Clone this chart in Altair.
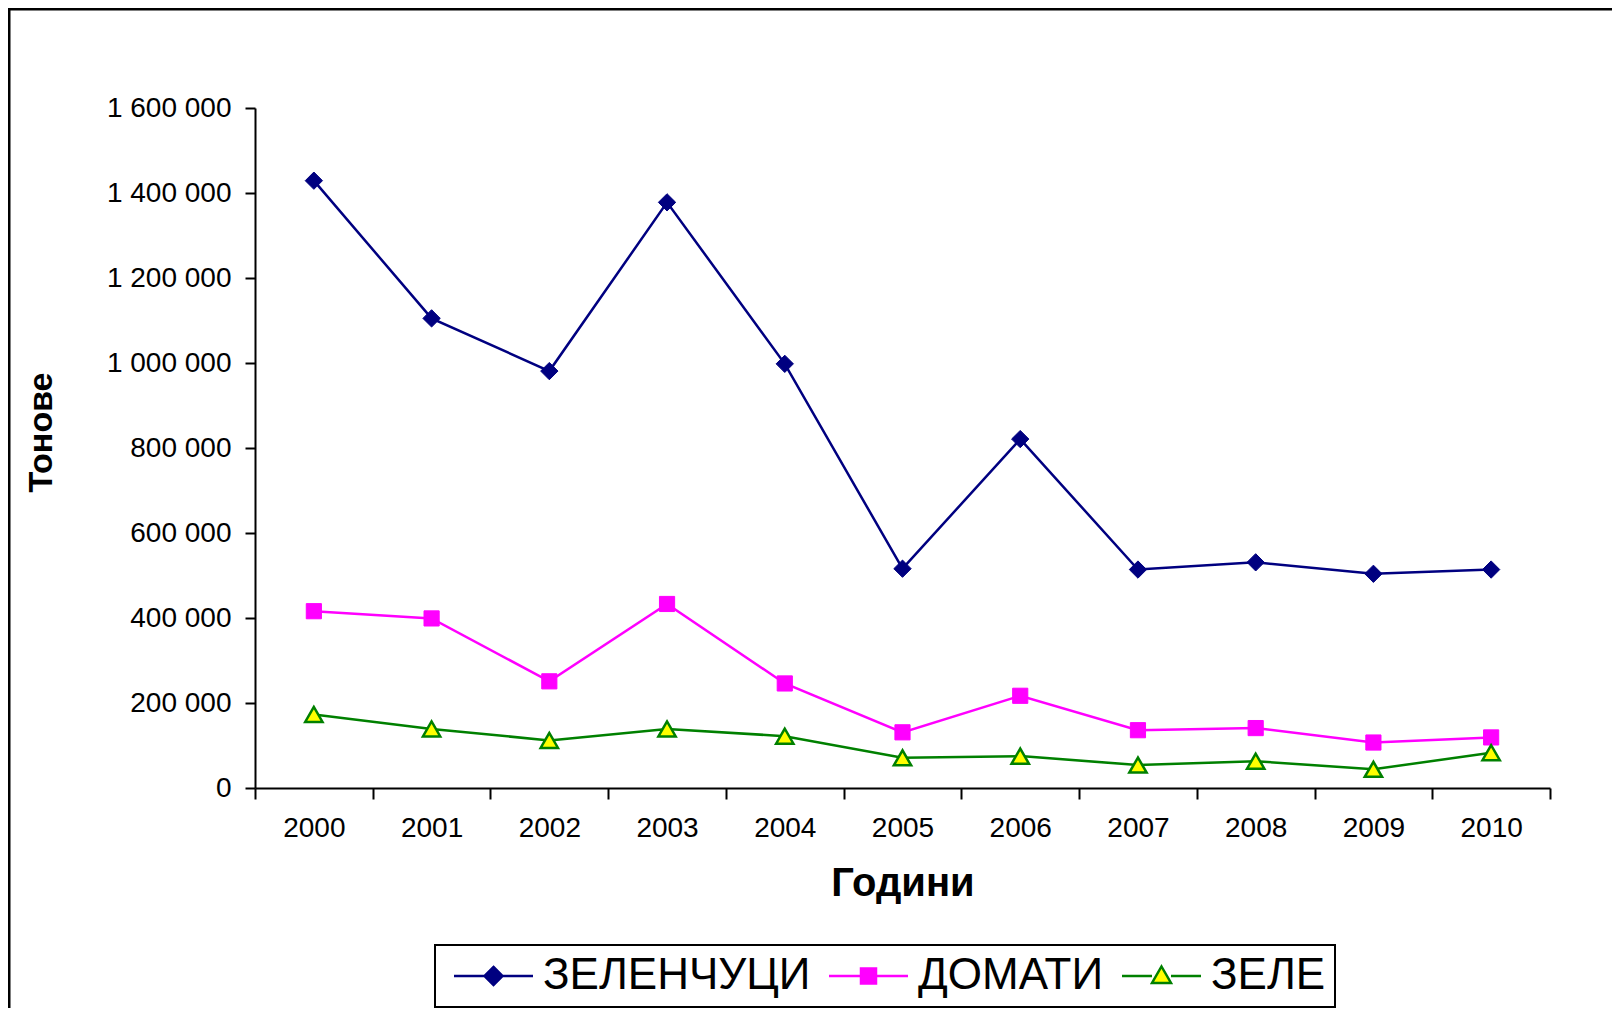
import altair as alt
import pandas as pd

# ---- data ----
years = ["2000", "2001", "2002", "2003", "2004", "2005", "2006", "2007", "2008", "2009", "2010"]
series_names = ["ЗЕЛЕНЧУЦИ", "ДОМАТИ", "ЗЕЛЕ"]
zelenchutsi = [1429000, 1105000, 981000, 1378000, 998000, 516000, 821000, 514000, 531000, 504000, 514000]
domati = [416000, 399000, 251000, 433000, 246000, 131000, 217000, 136000, 141000, 107000, 119000]
zele = [173000, 139000, 112000, 139000, 122000, 71000, 75000, 54000, 63000, 44000, 83000]
y_ticks = [0, 200000, 400000, 600000, 800000, 1000000, 1200000, 1400000, 1600000]

values_by_series = {"ЗЕЛЕНЧУЦИ": zelenchutsi, "ДОМАТИ": domati, "ЗЕЛЕ": zele}
rows = []
for s in series_names:
    for yr, v in zip(years, values_by_series[s]):
        rows.append({"year": yr, "value": v, "series": s})
df = pd.DataFrame(rows)

# ---- styles ----
line_colors = {"ЗЕЛЕНЧУЦИ": "#000080", "ДОМАТИ": "#FF00FF", "ЗЕЛЕ": "#008000"}
marker_fill = {"ЗЕЛЕНЧУЦИ": "#000080", "ДОМАТИ": "#FF00FF", "ЗЕЛЕ": "#FFFF00"}
marker_stroke = {"ЗЕЛЕНЧУЦИ": "#000080", "ДОМАТИ": "#FF00FF", "ЗЕЛЕ": "#008000"}
marker_shape = {"ЗЕЛЕНЧУЦИ": "diamond", "ДОМАТИ": "square", "ЗЕЛЕ": "triangle-up"}
marker_size = {"ЗЕЛЕНЧУЦИ": 300, "ДОМАТИ": 230, "ЗЕЛЕ": 300}
marker_sw = {"ЗЕЛЕНЧУЦИ": 1, "ДОМАТИ": 1, "ЗЕЛЕ": 2.5}

# legend symbols: line + marker (units of 10px with symbol size 400)
legend_paths = [
    "M-1.2,0L6.7,0M2.75,-0.9L3.65,0L2.75,0.9L1.85,0Z",
    "M-1.2,0L6.7,0M2.0,-0.75L3.5,-0.75L3.5,0.75L2.0,0.75Z",
    "M-1.2,0L1.8,0M3.7,0L6.7,0M2.75,-0.95L3.7,0.7L1.8,0.7Z",
]

FONT = "Liberation Sans"

x_enc = alt.X(
    "year:N",
    scale=alt.Scale(domain=years, paddingInner=0, paddingOuter=0),
    axis=alt.Axis(
        title="Години", labelAngle=0, tickBand="extent", grid=False,
        tickSize=11, tickWidth=2, tickColor="black",
        domainColor="black", domainWidth=2,
        labelFont=FONT, labelFontSize=28, labelColor="black", labelPadding=15,
        titleFont=FONT, titleFontSize=40, titleFontWeight="bold", titleColor="black",
        titleY=95, titleBaseline="middle",
    ),
)
y_enc = alt.Y(
    "value:Q",
    scale=alt.Scale(domain=[0, 1600000], nice=False, zero=True),
    axis=alt.Axis(
        title="Тонове", values=y_ticks, format=",d", grid=False,
        tickSize=10, tickWidth=2, tickColor="black",
        domainColor="black", domainWidth=2,
        labelFont=FONT, labelFontSize=28, labelColor="black", labelPadding=14,
        titleFont=FONT, titleFontSize=34, titleFontWeight="bold", titleColor="black",
        titleX=-214, titleY=324, titleAlign="center", titleBaseline="middle",
    ),
)

layers = []
frame_data = alt.Data(values=[{"f": 1}])
frame_top = alt.Chart(frame_data).mark_rule(stroke="black", strokeWidth=3).encode(
    x=alt.value(-249), x2=alt.value(1357), y=alt.value(-99)
)
frame_left = alt.Chart(frame_data).mark_rule(stroke="black", strokeWidth=3).encode(
    x=alt.value(-246), y=alt.value(-100), y2=alt.value(905)
)
layers += [frame_top, frame_left]

for s in series_names:
    base = alt.Chart(df).transform_filter(alt.datum.series == s)
    layers.append(
        base.mark_line(color=line_colors[s], strokeWidth=2.5).encode(x=x_enc, y=y_enc)
    )
for s in series_names:
    base = alt.Chart(df).transform_filter(alt.datum.series == s)
    layers.append(
        base.mark_point(
            shape=marker_shape[s], filled=True, fill=marker_fill[s], stroke=marker_stroke[s],
            strokeWidth=marker_sw[s], size=marker_size[s], opacity=1,
        ).encode(x=x_enc, y=y_enc)
    )

legend_layer = alt.Chart(df).transform_filter("false").mark_point(
    filled=True, opacity=1, strokeWidth=2.5, size=400
).encode(
    x=x_enc, y=y_enc,
    shape=alt.Shape("series:N", scale=alt.Scale(domain=series_names, range=legend_paths),
                    legend=alt.Legend(title=None)),
    fill=alt.Fill("series:N", scale=alt.Scale(domain=series_names,
                                              range=[marker_fill[s] for s in series_names])),
    stroke=alt.Stroke("series:N", scale=alt.Scale(domain=series_names,
                                                  range=[marker_stroke[s] for s in series_names])),
)
layers.append(legend_layer)

chart = alt.layer(*layers).properties(
    width=1295, height=680,
    padding={"left": 247, "top": 100, "right": 64, "bottom": 220},
    autosize=alt.AutoSizeParams(type="none"),
).configure(
    locale={"number": {"decimal": ",", "thousands": " ", "grouping": [3], "currency": ["", ""]}}
).configure_view(stroke=None).configure_legend(
    orient="none", legendX=180, legendY=837, direction="horizontal", columns=3,
    strokeColor="black", strokeWidth=2, fillColor="white", padding=9,
    labelFont=FONT, labelFontSize=44, labelColor="black", labelOffset=55,
    symbolSize=400, symbolStrokeWidth=2.5, columnPadding=8, labelLimit=0,
)

chart.save("out.html", embed_options={"renderer": "svg", "actions": False})
